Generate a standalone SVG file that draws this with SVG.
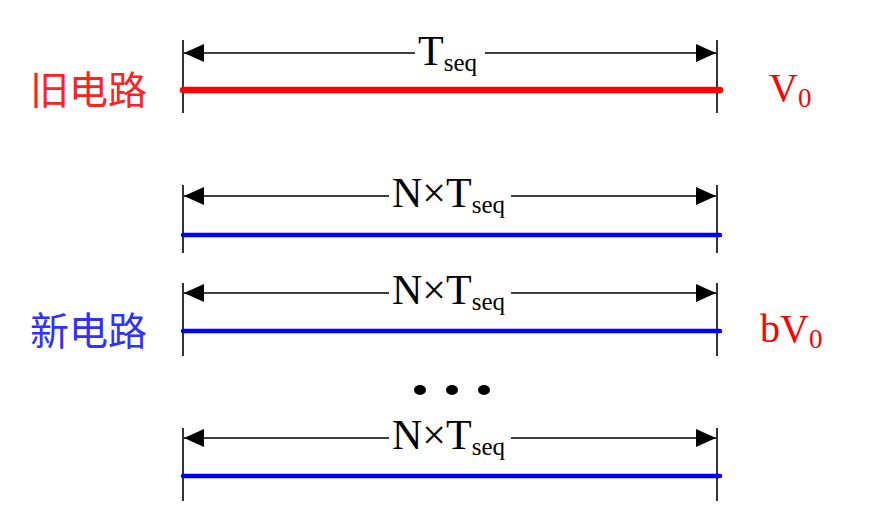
<svg xmlns="http://www.w3.org/2000/svg" width="882" height="514" viewBox="0 0 882 514">
<defs>
<marker id="ah" viewBox="0 0 20 18" refX="20" refY="9" markerWidth="20" markerHeight="18" markerUnits="userSpaceOnUse" orient="auto-start-reverse">
<path d="M0,0 L20,9 L0,18 Z" fill="#000"/>
</marker>
<style>
.tick{stroke:#000;stroke-width:1.6;fill:none}
.dim{stroke:#000;stroke-width:1.6;fill:none}
.red{stroke:#ff0000;stroke-width:6.5;stroke-linecap:round}
.blue{stroke:#0000ff;stroke-width:4.5;stroke-linecap:round}
.lab{font-family:"Liberation Serif",serif;font-size:42px;fill:#000}
.sub{font-size:25px}
.cn{font-family:"Noto Sans CJK SC",sans-serif;font-size:39px}
.val{font-family:"Liberation Serif",serif;font-size:40px;fill:#ff0000}
.vsub{font-size:27px}
</style>
</defs>
<rect width="882" height="514" fill="#fff"/>
<g id="connectors">
<line class="tick" x1="183" y1="40" x2="183" y2="113"/>
<line class="tick" x1="717" y1="40" x2="717" y2="113"/>
<line class="tick" x1="183" y1="185" x2="183" y2="253"/>
<line class="tick" x1="717" y1="185" x2="717" y2="253"/>
<line class="tick" x1="183" y1="283" x2="183" y2="356"/>
<line class="tick" x1="717" y1="283" x2="717" y2="356"/>
<line class="tick" x1="183" y1="428" x2="183" y2="501"/>
<line class="tick" x1="717" y1="428" x2="717" y2="501"/>
<line class="dim" x1="415" y1="53" x2="184" y2="53" marker-end="url(#ah)"/>
<line class="dim" x1="485" y1="53" x2="716" y2="53" marker-end="url(#ah)"/>
<line class="dim" x1="389" y1="196" x2="184" y2="196" marker-end="url(#ah)"/>
<line class="dim" x1="511" y1="196" x2="716" y2="196" marker-end="url(#ah)"/>
<line class="dim" x1="389" y1="293" x2="184" y2="293" marker-end="url(#ah)"/>
<line class="dim" x1="511" y1="293" x2="716" y2="293" marker-end="url(#ah)"/>
<line class="dim" x1="389" y1="438" x2="184" y2="438" marker-end="url(#ah)"/>
<line class="dim" x1="511" y1="438" x2="716" y2="438" marker-end="url(#ah)"/>
</g>
<g id="old-circuit">
<line class="red" x1="183" y1="90" x2="720" y2="90"/>
<text class="lab" x="418" y="65">T<tspan class="sub" dy="6">seq</tspan></text>
<text class="cn" x="30" y="104" fill="#ff2020">旧电路</text>
<text class="val" x="769" y="101">V<tspan class="vsub" dy="6">0</tspan></text>
</g>
<g id="new-circuit-1">
<line class="blue" x1="183" y1="235" x2="720" y2="235"/>
<text class="lab" x="392" y="207">N×T<tspan class="sub" dy="6">seq</tspan></text>
</g>
<g id="new-circuit-2">
<line class="blue" x1="183" y1="331" x2="720" y2="331"/>
<text class="lab" x="392" y="304">N×T<tspan class="sub" dy="6">seq</tspan></text>
<text class="cn" x="30" y="345" fill="#3030ff">新电路</text>
<text class="val" x="760" y="342">bV<tspan class="vsub" dy="6">0</tspan></text>
</g>
<g id="dots">
<ellipse cx="420" cy="390" rx="6" ry="5" fill="#000"/>
<ellipse cx="452" cy="390" rx="6" ry="5" fill="#000"/>
<ellipse cx="484" cy="390" rx="6" ry="5" fill="#000"/>
</g>
<g id="new-circuit-n">
<line class="blue" x1="183" y1="476" x2="720" y2="476"/>
<text class="lab" x="392" y="449">N×T<tspan class="sub" dy="6">seq</tspan></text>
</g>
</svg>
